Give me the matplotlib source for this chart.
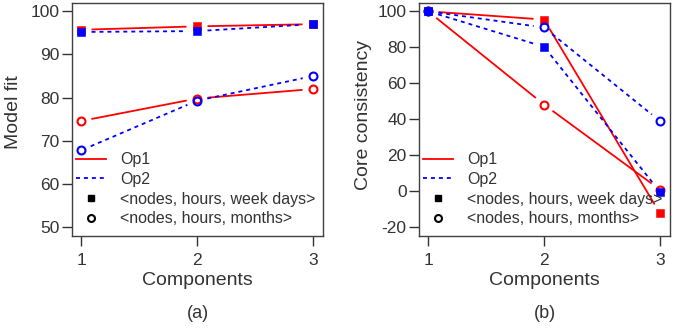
import matplotlib.pyplot as plt
import numpy as np
from matplotlib.lines import Line2D

plt.rcParams['font.family'] = ['Liberation Sans', 'DejaVu Sans']
plt.rcParams['axes.unicode_minus'] = False

components = [1, 2, 3]

# model fit (%)
fit_op1_week = [95.7, 96.5, 97.0]
fit_op2_week = [95.2, 95.4, 97.0]
fit_op1_month = [74.6, 79.8, 82.0]
fit_op2_month = [67.8, 79.3, 85.0]

# core consistency (%)
cc_op1_week = [100, 95.4, -12.3]
cc_op2_week = [100, 80.3, -0.3]
cc_op1_month = [100, 48.2, 0.9]
cc_op2_month = [100, 91.0, 39.0]

fit_ticks = [50, 60, 70, 80, 90, 100]
cc_ticks = [-20, 0, 20, 40, 60, 80, 100]

RED = '#ff0000'
BLUE = '#0000ff'
TXT = '#333333'
DASH = (0, (2.2, 2.2))

W, H = 683, 329
fig = plt.figure(figsize=(W / 100, H / 100), dpi=100)


def px_axes(x0, x1, y0, y1):
    return fig.add_axes([x0 / W, 1 - y1 / H, (x1 - x0) / W, (y1 - y0) / H])


def gapped_line(ax, x, y, color, ls, gap=10.5):
    # draw each segment stopping short of the markers (Igor style)
    tr = ax.transData
    pts = tr.transform(np.column_stack([x, y]))
    for a, b in zip(pts[:-1], pts[1:]):
        d = b - a
        n = np.hypot(*d)
        if n <= 2 * gap:
            continue
        u = d / n
        seg = tr.inverted().transform(np.vstack([a + u * gap, b - u * gap]))
        ax.plot(seg[:, 0], seg[:, 1], color=color, ls=ls, lw=1.3,
                solid_capstyle='butt', dash_capstyle='butt', zorder=2)


def panel(ax, series, ylim, yticks, ylabel, ylab_xy, tag):
    ax.set_xlim(0.922, 3.086)
    ax.set_ylim(*ylim)
    for y, color, ls, m in series:
        gapped_line(ax, components, y, color, ls)
    order = [0, 2, 1, 3]
    for i in order:
        y, color, ls, m = series[i]
        if m == 's':
            ax.plot(components, y, ls='none', marker='s', ms=5.3,
                    mfc=color, mec=color, mew=0.4, zorder=3)
        else:
            ax.plot(components, y, ls='none', marker='o', ms=5.7,
                    mfc='none', mec=color, mew=1.5, zorder=3)
    ax.set_xticks(components)
    ax.set_yticks(yticks)
    ax.tick_params(direction='out', length=7, width=1, colors=TXT,
                   labelsize=12.5, pad=2)
    ax.tick_params(axis='x', pad=5)
    for s in ax.spines.values():
        s.set_color('#404040')
        s.set_linewidth(1)
    ax.set_xlabel('Components', fontsize=14, color=TXT, labelpad=3)
    ax.set_ylabel(ylabel, fontsize=14, color=TXT)
    ax.yaxis.set_label_coords(*ylab_xy)

    handles = [
        Line2D([], [], color=RED, lw=1.3),
        Line2D([], [], color=BLUE, lw=1.3, ls=DASH),
        Line2D([], [], ls='none', marker='s', ms=4.5, color='black'),
        Line2D([], [], ls='none', marker='o', ms=5, mfc='none',
               mec='black', mew=1.5),
    ]
    labels = ['Op1', 'Op2', '<nodes, hours, week days>',
              '<nodes, hours, months>']
    leg = ax.legend(handles, labels, loc='upper left',
                    bbox_to_anchor=(0.016, 0.36), frameon=False,
                    fontsize=11.5, handlelength=1.9, handletextpad=0.85,
                    labelspacing=0.3, borderpad=0, borderaxespad=0)
    for t in leg.get_texts():
        t.set_color(TXT)
    leg.set_zorder(5)

    bb = ax.get_position()
    fig.text(bb.x0 + bb.width / 2, 1 - 313 / H, tag, ha='center',
             va='center', fontsize=13, color=TXT)


ax_a = px_axes(72, 323, 3, 236)
panel(ax_a,
      [(fit_op1_week, RED, '-', 's'),
       (fit_op2_week, BLUE, DASH, 's'),
       (fit_op1_month, RED, '-', 'o'),
       (fit_op2_month, BLUE, DASH, 'o')],
      (48.0, 101.9), fit_ticks, 'Model fit', (-0.199, 0.53), '(a)')

ax_b = px_axes(419, 670, 3, 236)
panel(ax_b,
      [(cc_op1_week, RED, '-', 's'),
       (cc_op2_week, BLUE, DASH, 's'),
       (cc_op1_month, RED, '-', 'o'),
       (cc_op2_month, BLUE, DASH, 'o')],
      (-24.8, 104.6), cc_ticks, 'Core consistency', (-0.187, 0.52), '(b)')

fig.savefig('out.png', dpi=100)
